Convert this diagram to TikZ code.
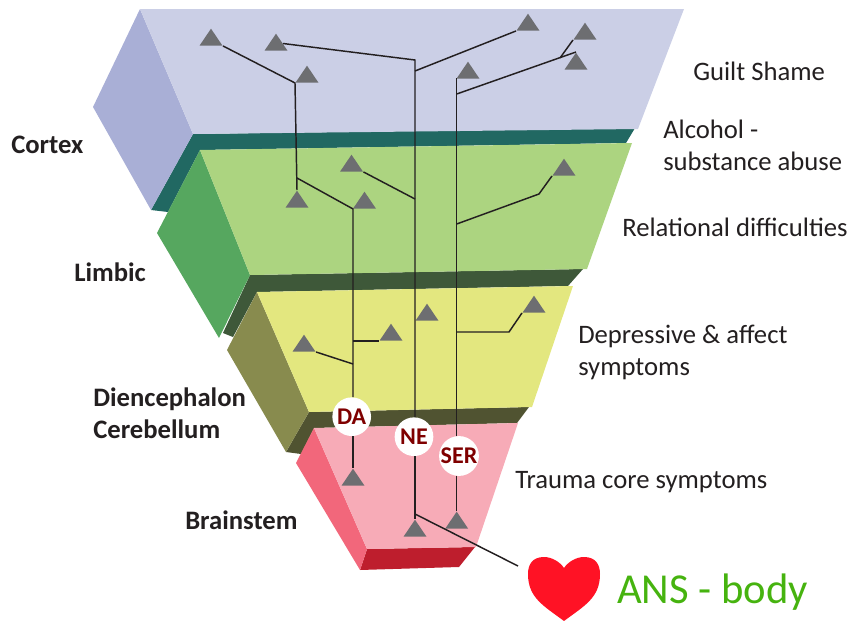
\documentclass[tikz,border=0pt]{standalone}
\usepackage{fontspec}
\setmainfont{Carlito}
\usetikzlibrary{shapes.geometric}
\definecolor{cortexTop}{HTML}{CBCFE6}
\definecolor{cortexSide}{HTML}{A9AFD6}
\definecolor{cortexBand}{HTML}{216862}
\definecolor{limbicTop}{HTML}{ACD480}
\definecolor{limbicSide}{HTML}{56A75F}
\definecolor{limbicBand}{HTML}{3E5839}
\definecolor{dienTop}{HTML}{E3E77F}
\definecolor{dienSide}{HTML}{888B4E}
\definecolor{dienBand}{HTML}{505331}
\definecolor{brainTop}{HTML}{F7ABB7}
\definecolor{brainSide}{HTML}{F2677B}
\definecolor{brainBand}{HTML}{BE1E2D}
\definecolor{neuronGray}{HTML}{6D6E71}
\definecolor{axonBlack}{HTML}{231F20}
\definecolor{labelRed}{HTML}{7F0000}
\definecolor{heartRed}{HTML}{FF1225}
\definecolor{ansGreen}{HTML}{46B30F}

\begin{document}
\begin{tikzpicture}
[x=0.75pt,y=-0.75pt,%
  neuron/.style={isosceles triangle,isosceles triangle stretches,shape border rotate=90,
    fill=neuronGray,inner sep=0pt,minimum width=23pt*0.75,minimum height=17pt*0.75,anchor=apex},%
  axon/.style={-,draw=axonBlack,line width=1.1pt},%
  transmitter/.style={circle,fill=white,inner sep=0pt,minimum size=29pt,text=labelRed,font=\fontsize{18}{20}\selectfont\bfseries},%
  regionLabel/.style={anchor=west,inner sep=0pt,align=left,text=axonBlack,font=\fontsize{20}{24}\selectfont\bfseries},%
  symptomLabel/.style={anchor=west,inner sep=0pt,align=left,text=axonBlack,font=\fontsize{20}{24}\selectfont}]
\useasboundingbox (0,0) rectangle (851,621);
%% the cortex block
\fill[cortexBand] (193,134) -- (635,128) -- (626,143) -- (200,150) -- (168,212) -- (151,210) -- cycle;
\fill[cortexSide] (140,9) -- (93,107) -- (151,210) -- (193,134) -- cycle;
\fill[cortexTop] (140,9) -- (684,9) -- (638,129) -- (193,134) -- cycle;
%% the limbic block
\fill[limbicBand] (250,275) -- (583,269) -- (568,286) -- (257,292) -- (233,337) -- (223,333) -- cycle;
\fill[limbicSide] (200,150) -- (157,233) -- (219,338) -- (250,275) -- cycle;
\fill[limbicTop] (200,150) -- (632,143) -- (587,269) -- (250,275) -- cycle;
%% the diencephalon block
\fill[dienBand] (309,412) -- (529,407) -- (517,423) -- (314,428) -- (301,454) -- (286,452) -- cycle;
\fill[dienSide] (257,292) -- (227,350) -- (286,452) -- (309,412) -- cycle;
\fill[dienTop] (257,292) -- (573,286) -- (532,407) -- (309,412) -- cycle;
%% the brainstem block
\fill[brainBand] (367,549) -- (475,547) -- (459,567) -- (360,570) -- cycle;
\fill[brainSide] (314,428) -- (296,463) -- (360,570) -- (367,549) -- cycle;
\fill[brainTop] (314,428) -- (518,423) -- (476,547) -- (367,549) -- cycle;
%% neurons, by the position of their tip
\foreach \nodename/\x/\y in {nA/211/28, nB/276/33, nC/307/65, nD/528/13,
  nE/585/22, nF/576/52, nG/468/61, nH/351.5/154, nI/297/190, nJ/364.5/191,
  nK/564/158, nL/427/303, nM/391/323, nN/304/334, nO/534/295, nP/353/468,
  nQ/415/519, nR/456.7/511}
{
  \node (\nodename) at (\x,\y) [neuron] {};
}
%% transmitters
\node (da) at (351.7,416.7) [transmitter] {DA};
\node (ne) at (414,436.7) [transmitter] {NE};
\node (ser) at (459,456) [transmitter] {SER};
%% branching points
\foreach \nodename/\x/\y in {daA/297/178, daB/353/341, daC/353/364,
  neTop/415/60, neA/415/71, neB/415/199, neC/415/514, heartEnd/518/566,
  nBend/283/43.5, serTop/456.7/78, serA/456.7/94, serB/560/58, serC/456.7/224,
  serD/539/194, serE/456.7/332, serF/509/332}
{
  \coordinate (\nodename) at (\x,\y);
}
%% the DA tree
\draw[axon] (nA.right corner) -- (nC.left corner) -- (nI.apex);
\draw[axon] (daA) -- (daB |- nJ.left corner) -- (daB |- da.north);
\draw[axon] (daB) -- (daB -| nM.left corner);
\draw[axon] (daC) -- (nN.right corner);
\draw[axon] (nP.apex |- da.south) -- (nP.apex);
%% the NE tree
\draw[axon] (nBend) -- (neTop) -- (neTop |- ne.north);
\draw[axon] (neA) -- (nD.left corner);
\draw[axon] (neB) -- (nH.right corner);
\draw[axon] (neTop |- ne.south) -- (nQ.apex);
\draw[axon] (neC) -- (heartEnd);
%% the SER tree
\draw[axon] (serTop) -- (serTop |- ser.north);
\draw[axon] (serA) -- (nF.apex);
\draw[axon] (serB) -- (nE.left corner);
\draw[axon] (serC) -- (serD) -- (nK.left corner);
\draw[axon] (serE) -- (serF) -- (nO.left corner);
\draw[axon] (serTop |- ser.south) -- (nR.apex);
%% the heart
\fill[heartRed] (564,621) .. controls (544,606) and (528,598) .. (528,574)
  .. controls (528,565) and (532,557) .. (544,557)
  .. controls (552,557) and (560,562) .. (564,568)
  .. controls (568,562) and (576,557) .. (584,557)
  .. controls (596,557) and (600,565) .. (600,574)
  .. controls (600,598) and (584,606) .. (564,621) -- cycle;
%% labels
\node (cortex) at (11,145) [regionLabel] {Cortex};
\node (limbic) at (74,272) [regionLabel] {Limbic};
\node (dien) at (93,413) [regionLabel] {Diencephalon\\Cerebellum};
\node (brainstem) at (185,520.5) [regionLabel] {Brainstem};
\node (guilt) at (693,71) [symptomLabel] {Guilt Shame};
\node (alcohol) at (663,145.5) [symptomLabel] {Alcohol -\\substance abuse};
\node (relational) at (622,227.5) [symptomLabel] {Relational difficulties};
\node (depressive) at (578,352.5) [symptomLabel] {Depressive \& affect\\symptoms};
\node (trauma) at (515,482) [symptomLabel] {Trauma core symptoms};
\node (ans) at (617,592) [anchor=west,inner sep=0pt,text=ansGreen,font=\fontsize{32}{36}\selectfont] {ANS - body};
\end{tikzpicture}
\end{document}
